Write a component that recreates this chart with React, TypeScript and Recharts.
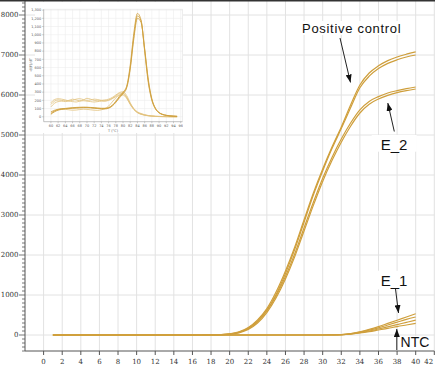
import React from 'react';
import { LineChart, Line, XAxis, YAxis, CartesianGrid, ReferenceLine } from 'recharts';

// ---------- main amplification plot data ----------
const cycles = [1, 2, 3, 4, 5, 6, 7, 8, 9, 10, 11, 12, 13, 14, 15, 16, 17, 18, 19, 20, 21, 22, 23, 24, 25, 26, 27, 28, 29, 30, 31, 32, 33, 34, 35, 36, 37, 38, 39, 40];

const positiveControl1 = [0, 0, 0, 0, 0, 0, 0, 0, 0, 0, 0, 0, 0, 0, 0, 0, 0, 3, 10, 30, 80, 190, 380, 660, 1080, 1600, 2200, 2880, 3550, 4150, 4700, 5200, 5750, 6250, 6550, 6730, 6860, 6950, 7020, 7080];
const positiveControl2 = [0, 0, 0, 0, 0, 0, 0, 0, 0, 0, 0, 0, 0, 0, 0, 0, 0, 2, 8, 25, 70, 170, 350, 620, 1020, 1540, 2140, 2820, 3500, 4100, 4660, 5160, 5680, 6180, 6470, 6660, 6790, 6880, 6950, 7000];
const e2a = [0, 0, 0, 0, 0, 0, 0, 0, 0, 0, 0, 0, 0, 0, 0, 0, 0, 2, 8, 25, 65, 160, 330, 600, 980, 1460, 2030, 2680, 3320, 3920, 4440, 4900, 5300, 5630, 5840, 5960, 6050, 6110, 6160, 6200];
const e2b = [0, 0, 0, 0, 0, 0, 0, 0, 0, 0, 0, 0, 0, 0, 0, 0, 0, 2, 6, 20, 55, 140, 300, 560, 930, 1400, 1960, 2600, 3240, 3840, 4360, 4820, 5220, 5550, 5770, 5900, 5990, 6060, 6110, 6150];
const e1a = [0, 0, 0, 0, 0, 0, 0, 0, 0, 0, 0, 0, 0, 0, 0, 0, 0, 0, 0, 0, 0, 0, 0, 0, 0, 0, 0, 0, 0, 0, 2, 10, 35, 80, 140, 210, 290, 370, 450, 530];
const e1b = [0, 0, 0, 0, 0, 0, 0, 0, 0, 0, 0, 0, 0, 0, 0, 0, 0, 0, 0, 0, 0, 0, 0, 0, 0, 0, 0, 0, 0, 0, 2, 8, 30, 70, 120, 180, 250, 320, 390, 450];
const e1c = [0, 0, 0, 0, 0, 0, 0, 0, 0, 0, 0, 0, 0, 0, 0, 0, 0, 0, 0, 0, 0, 0, 0, 0, 0, 0, 0, 0, 0, 0, 1, 6, 25, 60, 100, 150, 205, 260, 315, 370];
const ntc = [0, 0, 0, 0, 0, 0, 0, 0, 0, 0, 0, 0, 0, 0, 0, 0, 0, 0, 0, 0, 0, 0, 0, 0, 0, 0, 0, 0, 0, 0, 1, 5, 20, 50, 85, 125, 165, 210, 250, 290];

const xTicks = [0, 2, 4, 6, 8, 10, 12, 14, 16, 18, 20, 22, 24, 26, 28, 30, 32, 34, 36, 38, 40, 42];
const yMajorTicks = [0, 1000, 2000, 3000, 4000, 5000, 6000, 7000, 8000];
const yAllTicks: number[] = [];
for (let v = -400; v <= 8300; v += 100) yAllTicks.push(v);

// ---------- inset melt-curve data ----------
const temps = [60, 61, 62, 63, 64, 65, 66, 67, 68, 69, 70, 71, 72, 73, 74, 75, 76, 77, 78, 79, 80, 81, 82, 83, 84, 85, 86, 87, 88, 89, 90, 91, 92, 93, 94, 95];
const meltA1 = [40, 70, 88, 95, 100, 104, 108, 110, 112, 113, 114, 112, 108, 104, 100, 100, 108, 135, 180, 240, 290, 360, 600, 980, 1230, 1170, 820, 440, 210, 100, 50, 28, 18, 12, 8, 5];
const meltA2 = [60, 80, 92, 98, 102, 106, 110, 114, 116, 118, 116, 114, 110, 106, 104, 104, 112, 140, 190, 250, 300, 370, 630, 1020, 1260, 1180, 800, 420, 200, 95, 48, 26, 16, 10, 7, 5];
const meltA3 = [30, 60, 80, 90, 96, 100, 104, 106, 108, 110, 110, 108, 104, 100, 96, 96, 104, 130, 175, 230, 280, 350, 580, 950, 1200, 1150, 830, 460, 220, 105, 52, 30, 18, 12, 8, 5];
const meltB1 = [150, 190, 205, 200, 195, 200, 215, 205, 195, 205, 225, 215, 200, 195, 200, 205, 215, 235, 265, 295, 305, 260, 170, 100, 60, 40, 25, 16, 10, 6, 4, 3, 2, 2, 1, 1];
const meltB2 = [170, 210, 220, 215, 205, 195, 200, 215, 220, 210, 200, 205, 215, 210, 200, 195, 205, 225, 255, 285, 290, 240, 160, 95, 55, 35, 22, 14, 9, 5, 4, 3, 2, 2, 1, 1];
const meltB3 = [120, 165, 185, 190, 185, 190, 185, 180, 190, 195, 190, 185, 180, 185, 190, 190, 200, 220, 245, 270, 280, 235, 155, 90, 52, 32, 20, 13, 8, 5, 3, 2, 2, 1, 1, 1];
const meltB4 = [40, 70, 85, 95, 90, 85, 80, 82, 88, 92, 90, 85, 80, 78, 85, 100, 130, 180, 230, 260, 265, 225, 150, 88, 50, 30, 19, 12, 8, 5, 3, 2, 2, 1, 1, 1];

const insetXTicks = [60, 62, 64, 66, 68, 70, 72, 74, 76, 78, 80, 82, 84, 86, 88, 90, 92, 94, 96];
const insetYTicks = [0, 100, 200, 300, 400, 500, 600, 700, 800, 900, 1000, 1100, 1200, 1300];

const mainRows = cycles.map((c, i) => ({
  cycle: c,
  pc1: positiveControl1[i],
  pc2: positiveControl2[i],
  e2a: e2a[i],
  e2b: e2b[i],
  e1a: e1a[i],
  e1b: e1b[i],
  e1c: e1c[i],
  ntc: ntc[i],
}));
const mainKeys = ['ntc', 'e1c', 'e1b', 'e1a', 'e2b', 'e2a', 'pc2', 'pc1'];

const insetRows = temps.map((t, i) => ({
  temp: t,
  a1: meltA1[i],
  a2: meltA2[i],
  a3: meltA3[i],
  b1: meltB1[i],
  b2: meltB2[i],
  b3: meltB3[i],
  b4: meltB4[i],
}));

const GOLD = '#cf9f3c';
const AXIS_X = 25;

const renderYTick = (props: any) => {
  const { y, payload } = props;
  const v = payload.value;
  const major = v % 1000 === 0;
  return (
    <g>
      <line x1={AXIS_X - (major ? 6 : 3)} x2={AXIS_X} y1={y} y2={y} stroke="#555" strokeWidth={0.8} />
      {major && (
        <text x={AXIS_X - 6.5} y={y} dy="0.35em" textAnchor="end" fontSize={7} fontFamily="DejaVu Serif" fill="#333">
          {v}
        </text>
      )}
    </g>
  );
};

const renderXTick = (props: any) => {
  const { x, y, payload } = props;
  const last = payload.value === 42;
  return (
    <text x={last ? x - 5.5 : x} y={y} dy="0.71em" textAnchor="middle" fontSize={7} fontFamily="DejaVu Serif" fill="#333">
      {payload.value}
    </text>
  );
};

export default function App() {
  return (
    <div style={{ position: 'absolute', left: 0, top: 0, width: 435, height: 368, background: '#fff' }}>
      <div style={{ position: 'absolute', left: 0, top: 0 }}>
        <LineChart width={435} height={368} data={mainRows} margin={{ top: 1, right: 0.7, bottom: 0, left: 0 }}>
          <CartesianGrid stroke="#e2e2e2" strokeWidth={1} horizontalValues={yMajorTicks} verticalValues={xTicks} />
          <XAxis
            dataKey="cycle"
            type="number"
            domain={[-2, 42]}
            ticks={xTicks}
            interval={0}
            height={17}
            tickSize={4}
            tickMargin={4}
            tick={renderXTick}
            axisLine={{ stroke: '#555' }}
            tickLine={{ stroke: '#555' }}
            allowDataOverflow
          />
          <YAxis
            type="number"
            domain={[-400, 8350]}
            ticks={yAllTicks}
            interval={0}
            width={AXIS_X}
            tick={renderYTick}
            tickLine={false}
            axisLine={{ stroke: '#555' }}
            allowDataOverflow
          />
          {mainKeys.map((k) => (
            <Line key={k} dataKey={k} type="monotone" stroke={GOLD} strokeWidth={1.2} dot={false} isAnimationActive={false} />
          ))}
        </LineChart>
      </div>

      <div style={{ position: 'absolute', left: 35, top: 1.5, width: 148, height: 131.5, background: '#fff' }} />
      <div style={{ position: 'absolute', left: 28, top: 1 }}>
        <LineChart width={155} height={132} data={insetRows} margin={{ top: 8.3, right: 0.5, bottom: 0, left: 0 }}>
          <CartesianGrid stroke="#ececec" strokeWidth={0.6} horizontalValues={insetYTicks} verticalValues={insetXTicks} />
          <XAxis
            dataKey="temp"
            type="number"
            domain={[58, 96.5]}
            ticks={insetXTicks}
            interval={0}
            height={11.3}
            tickSize={1.5}
            tickMargin={1}
            tick={{ fontSize: 3.5, fill: '#555', fontFamily: 'DejaVu Sans' }}
            axisLine={{ stroke: '#999', strokeWidth: 0.6 }}
            tickLine={{ stroke: '#999', strokeWidth: 0.5 }}
            allowDataOverflow
          />
          <YAxis
            type="number"
            domain={[-60, 1310]}
            ticks={insetYTicks}
            interval={0}
            width={15.7}
            tickSize={1.5}
            tickMargin={1}
            tickFormatter={(v: number) => v.toLocaleString('en-US')}
            tick={{ fontSize: 3.5, fill: '#555', fontFamily: 'DejaVu Sans' }}
            axisLine={{ stroke: '#999', strokeWidth: 0.6 }}
            tickLine={{ stroke: '#999', strokeWidth: 0.5 }}
            allowDataOverflow
          />
          <ReferenceLine y={1310} stroke="#e0e0e0" strokeWidth={0.6} />
          <ReferenceLine x={96.5} stroke="#e0e0e0" strokeWidth={0.6} />
          {['b4', 'b3', 'b2', 'b1'].map((k) => (
            <Line key={k} dataKey={k} type="monotone" stroke="#e2c27c" strokeWidth={0.8} dot={false} isAnimationActive={false} />
          ))}
          {['a3', 'a2', 'a1'].map((k) => (
            <Line key={k} dataKey={k} type="monotone" stroke="#cf9f3c" strokeWidth={0.8} dot={false} isAnimationActive={false} />
          ))}
        </LineChart>
      </div>

      <svg width={435} height={368} style={{ position: 'absolute', left: 0, top: 0 }}>
        <defs>
          <marker id="ah" markerWidth="8" markerHeight="6" refX="8" refY="3" orient="auto" markerUnits="userSpaceOnUse">
            <path d="M0,0 L8,3 L0,6 Z" fill="#111" />
          </marker>
        </defs>
        <line x1={0} x2={435} y1={0.75} y2={0.75} stroke="#333" strokeWidth={1.5} />

        <text x={31.5} y={65} fontSize={3.5} fill="#666" textAnchor="middle" fontFamily="DejaVu Sans" transform="rotate(-90 31.5 65)">
          -d(F)/dT
        </text>
        <text x={113} y={131.5} fontSize={3.5} fill="#666" textAnchor="middle" fontFamily="DejaVu Sans">
          T (°C)
        </text>

        <rect x={300} y={21} width={104} height={14} fill="#fff" />
        <text x={351.7} y={32.7} fontSize={13} letterSpacing={0.7} textAnchor="middle" fontFamily="Liberation Sans" fill="#111">
          Positive control
        </text>
        <line x1={340} y1={38} x2={350.5} y2={82.5} stroke="#222" strokeWidth={1} markerEnd="url(#ah)" />

        <rect x={371.7} y={135} width={45} height={16.7} fill="#fff" />
        <text x={394} y={150} fontSize={15} textAnchor="middle" fontFamily="Liberation Sans" fill="#111">
          E_2
        </text>
        <line x1={394.3} y1={131.5} x2={387.8} y2={103} stroke="#222" strokeWidth={1} markerEnd="url(#ah)" />

        <rect x={376.7} y={270.7} width={36.6} height={18.6} fill="#fff" />
        <text x={394} y={286} fontSize={15} textAnchor="middle" fontFamily="Liberation Sans" fill="#111">
          E_1
        </text>
        <line x1={395.5} y1={289} x2={398.5} y2={313} stroke="#222" strokeWidth={1} markerEnd="url(#ah)" />

        <rect x={398.5} y={336} width={34} height={14} fill="#fff" />
        <text x={415} y={346.7} fontSize={14} textAnchor="middle" fontFamily="Liberation Sans" fill="#111">
          NTC
        </text>
        <line x1={396.8} y1={350} x2={396.8} y2={329} stroke="#222" strokeWidth={1} markerEnd="url(#ah)" />
      </svg>
    </div>
  );
}
